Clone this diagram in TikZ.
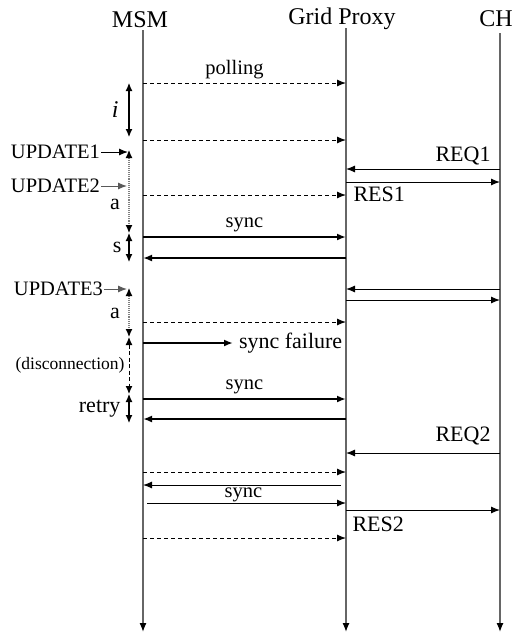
\documentclass[tikz,border=0pt]{standalone}
\usepackage{fontspec}
\setmainfont{Liberation Serif}
\usetikzlibrary{arrows.meta}
\begin{document}
\begin{tikzpicture}[x=1pt,y=-1pt,
        % Líneas de vida de las tres entidades
        lifeline/.style={draw=black!60, line width=1.3pt, -{Latex[length=9pt,width=7pt,color=black]}},
        % Mensajes entre entidades
        msg/.style={black, line width=1pt, -{Latex[length=9pt,width=7pt]}},
        poll/.style={msg, dash pattern=on 4pt off 3pt},
        syncmsg/.style={msg, line width=2pt},
        % Intervalos de tiempo junto a MSM
        span/.style={black, line width=1.1pt, {Latex[length=8pt,width=7pt]}-{Latex[length=8pt,width=7pt]}},
        waitspan/.style={black, line width=1.1pt, draw=black!50, densely dotted,
            {Latex[length=8pt,width=7pt,color=black]}-{Latex[length=8pt,width=7pt,color=black]}},
        discspan/.style={span, line width=1pt, dash pattern=on 4pt off 2.5pt},
        % Textos
        title/.style={font=\fontsize{24}{26}\selectfont, inner sep=0pt, anchor=base},
        big/.style={font=\fontsize{22}{25}\selectfont, inner sep=1pt},
        lbl/.style={font=\fontsize{20.5}{23}\selectfont, inner sep=1pt}
    ]
    \useasboundingbox (0,0) rectangle (523,633);

    % Cabeceras y líneas de vida
    \node[title] (msm) at (140,27) {MSM};
    \node[title] (proxy) at (342,24) {Grid Proxy};
    \node[title] (ch) at (496,26) {CH};
    \coordinate (msmtop) at (143,30);
    \coordinate (msmend) at (143,632);
    \coordinate (proxytop) at (346,28);
    \coordinate (proxyend) at (346,632);
    \coordinate (chtop) at (500,33);
    \coordinate (chend) at (500,632);
    \draw[lifeline] (msmtop) -- (msmend);
    \draw[lifeline] (proxytop) -- (proxyend);
    \draw[lifeline] (chtop) -- (chend);

    % Puntos de cada mensaje sobre las líneas de vida
    \foreach \n/\y in {p1/83, p2/140, r1/169, s1/182, p3/195, y1/237, y2/258,
        r2/289, s2/300, p4/322, f1/343, y3/399, y4/419, r3/453, p5/472,
        b1/485, b2/503, s3/510, p6/538}
    {
        \coordinate (m\n) at (143,\y);
        \coordinate (g\n) at (346,\y);
        \coordinate (c\n) at (500,\y);
    }

    % Mensajes
    \draw[poll] (mp1) -- (gp1) node[midway, above=3pt, lbl, xshift=-10pt] {polling};
    \draw[poll] (mp2) -- (gp2);
    \draw[msg] (cr1) -- (gr1) node[pos=0, anchor=south east, xshift=-8pt, yshift=2pt, big] {REQ1};
    \draw[msg] (gs1) -- (cs1) node[pos=0, anchor=north west, xshift=6pt, yshift=-3pt, big] {RES1};
    \draw[poll] (mp3) -- (gp3);
    \draw[syncmsg] (my1) -- (gy1) node[midway, above=3pt, lbl] {sync};
    \draw[syncmsg] (gy2) -- (my2);
    \draw[msg] (cr2) -- (gr2);
    \draw[msg] (gs2) -- (cs2);
    \draw[poll] (mp4) -- (gp4);
    \coordinate (fail) at (233,343);
    \draw[syncmsg] (mf1) -- (fail) node[right=4pt, big] (failtxt) {sync failure};
    \draw[syncmsg] (my3) -- (gy3) node[midway, above=3pt, lbl] {sync};
    \draw[syncmsg] (gy4) -- (my4);
    \draw[msg] (cr3) -- (gr3) node[pos=0, anchor=south east, xshift=-8pt, yshift=6pt, big] {REQ2};
    \draw[poll] (mp5) -- (gp5);
    \coordinate (b1start) at (341,485);
    \coordinate (b2start) at (147,503);
    \draw[msg] (b1start) -- (mb1);
    \draw[msg] (b2start) -- (gb2) node[midway, anchor=base, yshift=5.5pt, lbl, inner sep=0pt, xshift=-3pt] {sync};
    \draw[msg] (gs3) -- (cs3) node[pos=0, anchor=north west, xshift=5pt, yshift=-5pt, big] {RES2};
    \draw[poll] (mp6) -- (gp6);

    % Intervalos junto a MSM
    \coordinate (i1) at (129,83);
    \coordinate (i2) at (129,137);
    \coordinate (a1) at (129,150);
    \coordinate (a2) at (129,233);
    \coordinate (s2) at (129,262);
    \coordinate (a3) at (129,288);
    \coordinate (a4) at (129,337);
    \coordinate (d2) at (129,394);
    \coordinate (t2) at (129,423);
    \draw[span] (i1) -- (i2) node[midway, left=9pt, font=\fontsize{24}{26}\selectfont\itshape, inner sep=1pt] {i};
    \draw[waitspan] (a1) -- (a2);
    \draw[span] (a2) -- (s2) node[midway, left=6pt, big] {s};
    \draw[waitspan] (a3) -- (a4);
    \draw[discspan] (a4) -- (d2) node[midway, left=3pt, font=\fontsize{17.5}{20}\selectfont, inner sep=1pt] {(disconnection)};
    \draw[span] (d2) -- (t2) node[midway, left=7pt, big] {retry};
    \node[big] at (115,204) {a};
    \node[big] at (115,313) {a};

    % Actualizaciones que llegan a MSM
    \node[lbl, anchor=east] (upd1) at (101,152) {UPDATE1};
    \node[lbl, anchor=east] (upd2) at (101,186) {UPDATE2};
    \node[lbl, anchor=east] (upd3) at (104,289) {UPDATE3};
    \coordinate (u1) at (128,152);
    \coordinate (u2) at (127,186);
    \coordinate (u3) at (127,289);
    \draw[msg] (upd1) -- (u1);
    \draw[msg, draw=black!65] (upd2) -- (u2);
    \draw[msg, draw=black!65] (upd3) -- (u3);

\end{tikzpicture}
\end{document}
